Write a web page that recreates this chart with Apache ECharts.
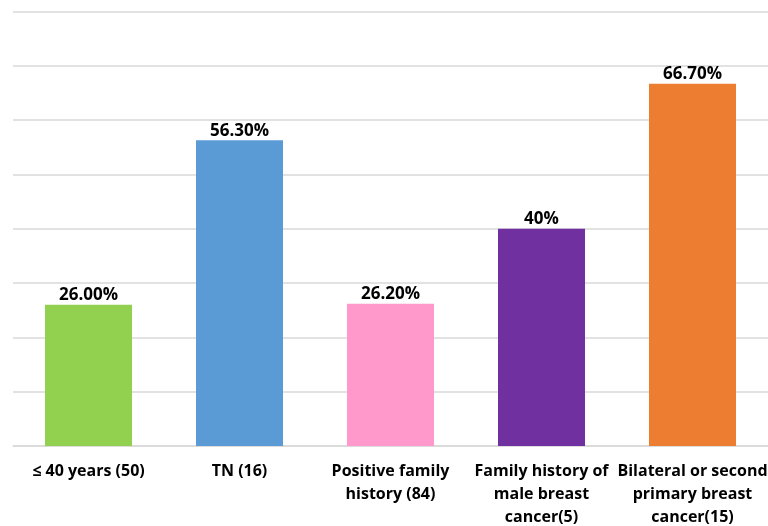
<!DOCTYPE html>
<html>
<head>
<meta charset="utf-8">
<script src="https://cdn.jsdelivr.net/npm/echarts@6/dist/echarts.min.js"></script>
<style>
  html, body { margin: 0; padding: 0; background: #fff; }
  #chart { width: 768px; height: 526px; }
</style>
</head>
<body>
<div id="chart"></div>
<script>
// 数据
var categories = [
  '≤ 40 years (50)',
  'TN (16)',
  'Positive family\nhistory (84)',
  'Family history of\nmale breast\ncancer(5)',
  'Bilateral or second\nprimary breast\ncancer(15)'
];
var values = [26.0, 56.3, 26.2, 40, 66.7];
var valueLabels = ['26.00%', '56.30%', '26.20%', '40%', '66.70%'];
var barColors = ['#92d050', '#5b9bd5', '#ff99cc', '#7030a0', '#ed7d31'];

var FONT = '"Open Sans", Lato, sans-serif';

var chart = echarts.init(document.getElementById('chart'));

chart.setOption({
  animation: false,
  grid: { left: 13, right: 0, top: 11.5, bottom: 80, outerBoundsMode: 'none' },
  xAxis: {
    type: 'category',
    data: categories,
    axisLine: { lineStyle: { color: '#d9d9d9', width: 1.5 } },
    axisTick: { show: false },
    axisLabel: {
      interval: 0,
      margin: 14,
      color: '#000',
      fontFamily: FONT,
      fontWeight: 'bold',
      fontSize: 16,
      lineHeight: 23
    }
  },
  yAxis: {
    type: 'value',
    min: 0,
    max: 80,
    interval: 10,
    axisLabel: { show: false },
    axisLine: { show: false },
    axisTick: { show: false },
    splitLine: { lineStyle: { color: '#d9d9d9', width: 1.5 } }
  },
  series: [{
    type: 'bar',
    barWidth: 87,
    data: values.map(function (v, i) {
      return { value: v, itemStyle: { color: barColors[i] } };
    }),
    label: {
      show: true,
      position: 'top',
      distance: 1,
      color: '#000',
      fontFamily: FONT,
      fontWeight: 'bold',
      fontSize: 17,
      formatter: function (p) { return valueLabels[p.dataIndex]; }
    }
  }]
});
</script>
</body>
</html>
